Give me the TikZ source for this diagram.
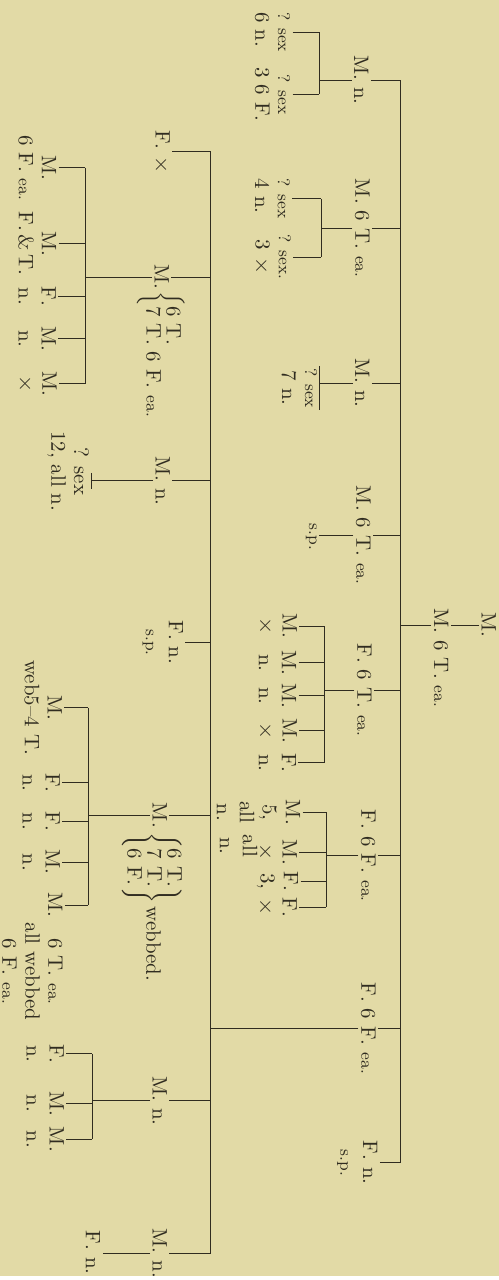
\documentclass[tikz,border=0pt]{standalone}
\usetikzlibrary{calc}
\definecolor{paper}{RGB}{226,218,166}
\definecolor{ink}{RGB}{48,44,32}
\newcommand\sm[1]{{\fontsize{8.5}{9}\selectfont #1}}

\begin{document}
\begin{tikzpicture}[x=0.5pt,y=-0.5pt,color=ink,line width=.45pt,
  every node/.style={rotate=-90,anchor=west,inner sep=1pt,align=center,
    font=\fontsize{10.5}{11.5}\selectfont}]
\fill[paper] (0,0) rectangle (500,1280);
\coordinate (b0) at (401,0);
\coordinate (b1) at (320,0);
\coordinate (b2) at (322,0);
\coordinate (b5) at (325,0);
\coordinate (b6) at (327,0);
\coordinate (b7) at (211,0);
\coordinate (b8) at (85,0);
\coordinate (b9) at (88,0);
\coordinate (b10) at (92,0);

\node (root) at (490,612) {M.};
\node (son) at (442,608) {M. 6 T. \sm{ea.}};
\node (c1) at (362,53) {M. n.};
\node (c2) at (363,177) {M. 6 T. \sm{ea.}};
\node (c3) at (363,357) {M. n.};
\node (c4) at (364,485) {M. 6 T. \sm{ea.}};
\node (c5) at (365,643) {F. 6 T. \sm{ea.}};
\node (c6) at (369,810) {F. 6 F. \sm{ea.}};
\node (c7) at (369,983) {F. 6 F. \sm{ea.}};
\node (c8) at (358,1142) {F. n.\\\sm{s.p.}};

\node[align=left] (g11) at (273,10) {\sm{? sex}\\6 n.};
\node (g12) at (273,65) {\sm{? sex}\\3 6 F.};
\node[align=left] (g21) at (273,177) {\sm{? sex}\\4 n.};
\node (g22) at (273,233) {\sm{? sex.}\\3 $\times$};
\node (g31) at (300,367) {\sm{? sex}\\7 n.};
\node (g41) at (312,523) {\sm{s.p.}};
\node (g51) at (278,613) {M.\\$\times$};
\node (g52) at (278,650) {M.\\n.};
\node (g53) at (278,683) {M.\\n.};
\node (g54) at (278,718) {M.\\$\times$};
\node (g55) at (278,753) {F.\\n.};
\node (g61) at (259,800) {M.\\5,\\all\\n.};
\node (g62) at (278,840) {M.\\$\times$};
\node (g63) at (278,872) {F.\\3,};
\node (g63b) at (239,835) {all\\n.};
\node (g64) at (278,898) {F.\\$\times$};

\node (d1) at (162,128) {F. $\times$};
\node (d2) at (162,263) {M.};
\node (d2x) at (161,290) {$\left\{\def\arraystretch{.85}\begin{array}{@{}l@{}}\mbox{6 T.}\\\mbox{7 T. 6 F. \sm{ea.}}\end{array}\right.$};
\node (d3) at (163,455) {M. n.};
\node (d4) at (163,620) {F. n.\\\sm{s.p.}};
\node (d5) at (160,803) {M.};
\node (d5x) at (152,833) {$\left\{\def\arraystretch{.85}\begin{array}{@{}l@{}}\mbox{6 T.}\\\mbox{7 T.}\\\mbox{6 F.}\end{array}\right\}$\,webbed.};
\node (d6) at (160,1077) {M. n.};
\node (d7) at (160,1230) {M. n.};

\node (e1) at (37,133) {M.\\6 F. \sm{ea.}};
\node (e2) at (37,210) {M.\\F.\,\&\,T.};
\node (e3) at (37,285) {F.\\n.};
\node (e4) at (37,325) {M.\\n.};
\node (e5) at (37,370) {M.\\$\times$};
\node (e6) at (68,430) {? sex\\12, all n.};
\node (f1) at (43,660) {M.\\web5--4 T.};
\node (f2) at (41,773) {F.\\n.};
\node (f3) at (41,812) {F.\\n.};
\node (f4) at (41,850) {M.\\n.};
\node (f5) at (55,893) {M.};
\node (f5x) at (32,923) {6 T. \sm{ea.}\\all webbed\\6 F. \sm{ea.}};
\node (h1) at (45,1045) {F.\\n.};
\node (h2) at (45,1092) {M.\\n.};
\node (h3) at (45,1128) {M.\\n.};
\node (k1) at (93,1232) {F. n.};

\draw (root.south) -- (root.south -| son.north);
\draw (son.south |- root.south) -- (b0 |- root.south);
\draw (b0 |- c1.north) -- (b0 |- c8.north);
\foreach \c in {c1,c2,c3,c4,c5,c6,c7,c8} \draw (\c.north) -- (\c.north -| b0);

\draw (c1.south) -- (c1.south -| b1);
\draw (b1 |- g11.north) -- (b1 |- g12.north);
\foreach \c in {g11,g12} \draw (\c.north) -- (\c.north -| b1);
\draw (c2.south) -- (c2.south -| b2);
\draw (b2 |- g21.north) -- (b2 |- g22.north);
\foreach \c in {g21,g22} \draw (\c.north) -- (\c.north -| b2);
\draw (c3.south) -- (c3.south -| g31.north);
\draw (g31.north west) -- (g31.north east);
\draw (c4.south) -- (c4.south -| g41.north);
\draw (c5.south) -- (c5.south -| b5);
\draw (b5 |- g51.north) -- (b5 |- g55.north);
\foreach \c in {g51,g52,g53,g54,g55} \draw (\c.north) -- (\c.north -| b5);
\draw (c6.south) -- (c6.south -| b6);
\draw (b6 |- g61.north) -- (b6 |- g64.north);
\foreach \c in {g61,g62,g63,g64} \draw (\c.north) -- (\c.north -| b6);

\draw (c7.south) -- (c7.south -| b7);
\draw (b7 |- d1.north) -- (b7 |- d7.north);
\foreach \c in {d1,d2,d3,d4,d5,d6,d7} \draw (\c.north) -- (\c.north -| b7);
\draw (d2.south) -- (d2.south -| b8);
\draw (b8 |- e1.north) -- (b8 |- e5.north);
\foreach \c in {e1,e2,e3,e4,e5} \draw (\c.north) -- (\c.north -| b8);
\draw (d3.south) -- (d3.south -| e6.north);
\draw ($(d3.south -| e6.north)+(0,-8)$) -- ($(d3.south -| e6.north)+(0,8)$);
\draw (d5.south) -- (d5.south -| b9);
\draw (b9 |- f1.north) -- (b9 |- f5.north);
\foreach \c in {f1,f2,f3,f4,f5} \draw (\c.north) -- (\c.north -| b9);
\draw (d6.south) -- (d6.south -| b10);
\draw (b10 |- h1.north) -- (b10 |- h3.north);
\foreach \c in {h1,h2,h3} \draw (\c.north) -- (\c.north -| b10);
\draw (d7.south) -- (d7.south -| k1.north);
\end{tikzpicture}
\end{document}
